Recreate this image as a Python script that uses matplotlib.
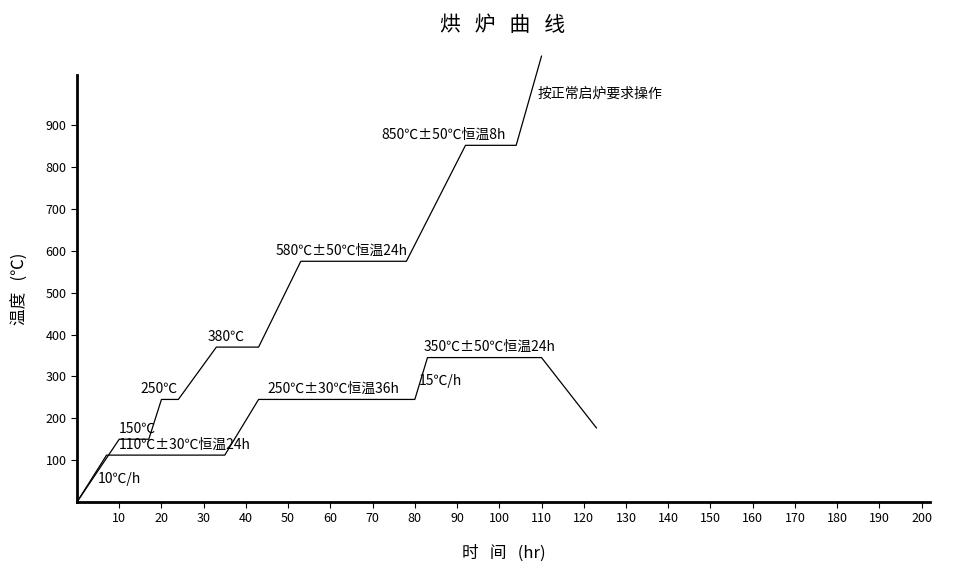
import matplotlib
matplotlib.use('Agg')
import matplotlib.pyplot as plt

plt.rcParams['font.family'] = ['Noto Sans CJK SC', 'DejaVu Sans']

# upper curve (hours, degC)
up_t = [0, 10, 17, 20, 24, 33, 43, 53, 78, 92, 104, 110]
up_v = [0, 150, 150, 245, 245, 370, 370, 575, 575, 852, 852, 1065]
# lower curve
lo_t = [0, 7, 35, 43, 80, 83, 110, 123]
lo_v = [0, 112, 112, 245, 245, 345, 345, 177]

xticks = list(range(10, 201, 10))
yticks = list(range(100, 901, 100))

labels = [
    (10, 150, '150℃'), (15, 245, '250℃'), (31, 370, '380℃'),
    (47, 575, '580℃±50℃恒温24h'), (72, 852, '850℃±50℃恒温8h'),
    (109, 950, '按正常启炉要求操作'), (10, 112, '110℃±30℃恒温24h'),
    (45, 245, '250℃±30℃恒温36h'), (82, 345, '350℃±50℃恒温24h'),
    (81, 265, '15℃/h'), (5, 30, '10℃/h'),
]

fig = plt.figure(figsize=(9.67, 5.66), dpi=100)
ax = fig.add_axes([77 / 967, 64 / 566, (930 - 77) / 967, (502 - 75) / 566])
ax.plot(up_t, up_v, color='black', lw=0.9, clip_on=False)
ax.plot(lo_t, lo_v, color='black', lw=0.9)
ax.set_xlim(0, 202)
ax.set_ylim(0, 1020)
ax.set_xticks(xticks)
ax.set_yticks(yticks)
ax.tick_params(labelsize=9, length=4, width=0.8)
for s in ['top', 'right']:
    ax.spines[s].set_visible(False)
for s in ['left', 'bottom']:
    ax.spines[s].set_linewidth(2)

for x, y, t in labels:
    ax.text(x, y + 8, t, fontsize=10, va='bottom', ha='left')

ax.set_xlabel('时   间   (hr)', fontsize=12, labelpad=14)
ax.set_ylabel('温度   (℃)', fontsize=12, labelpad=12)
fig.text(0.52, 0.955, '烘   炉   曲   线', fontsize=15, ha='center', va='center')

fig.savefig('out.png', dpi=100, facecolor='white')
